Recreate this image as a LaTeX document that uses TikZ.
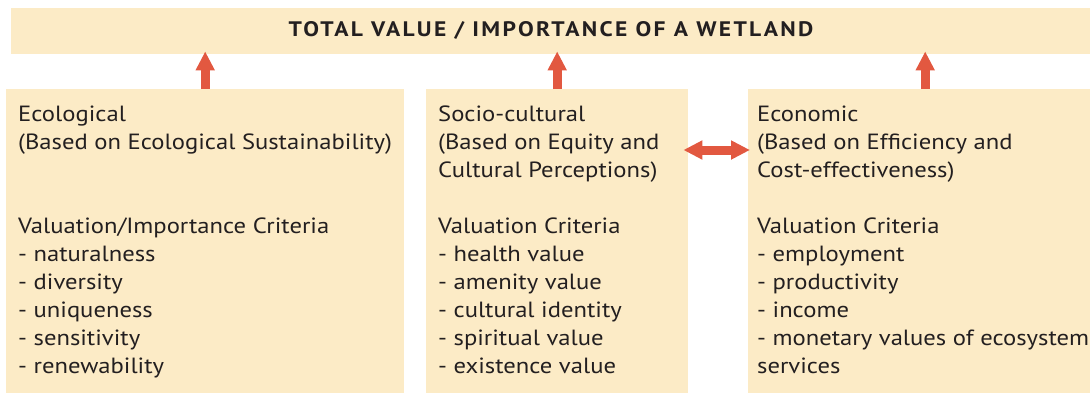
\documentclass[tikz,border=0pt]{standalone}
\usepackage{fontspec}
\setmainfont{PT Sans}[FakeStretch=1.12]
\newfontfamily\titlefont{PT Sans}[FakeStretch=1.12, LetterSpace=11]
\usetikzlibrary{arrows.meta}

\definecolor{wetbeige}{RGB}{252,235,198}
\definecolor{wetred}{RGB}{226,88,64}
\definecolor{wettext}{RGB}{35,31,32}

\tikzset{
  valuebox/.style={fill=wetbeige, draw=none, inner sep=0pt, anchor=north west},
  boxtext/.style={anchor=north west, inner sep=0pt, align=left, text=wettext,
    font=\fontsize{22}{28}\selectfont},
  uparrow/.style={draw=wetred, line width=9pt, -{Triangle[length=19pt,width=18pt]}},
  twoarrow/.style={draw=wetred, line width=9pt,
    {Triangle[length=19pt,width=18pt]}-{Triangle[length=19pt,width=18pt]}}
}

\begin{document}
\begin{tikzpicture}[x=1pt,y=-1pt]
			%%%%% START %%%%%
			
			\useasboundingbox (0,0) rectangle (1090,392);
			\clip (0,0) rectangle (1090,392);
			
			\node[valuebox, minimum width=1091pt, minimum height=46pt] (total) at (11,8) {};
			\node[anchor=base, inner sep=0pt, text=wettext, font=\titlefont\fontsize{21}{28}\selectfont\bfseries]
			  (title) at (551,36.7) {TOTAL VALUE / IMPORTANCE OF A WETLAND};
			
			\node[valuebox, minimum width=398pt, minimum height=320pt] (ecol) at (6,89) {};
			\node[valuebox, minimum width=262pt, minimum height=320pt] (socio) at (426,89) {};
			\node[valuebox, minimum width=354pt, minimum height=320pt] (econ) at (748,89) {};
			
			\node[boxtext] (ecoltext) at (18,101.5) {\rule{0pt}{20pt}Ecological\\
			  (Based on Ecological Sustainability)\\[56pt]
			  Valuation/Importance Criteria\\
			  - naturalness\\
			  - diversity\\
			  - uniqueness\\
			  - sensitivity\\
			  - renewability};
			
			\node[boxtext] (sociotext) at (438,101.5) {\rule{0pt}{20pt}Socio-cultural\\
			  (Based on Equity and\\
			  Cultural Perceptions)\\[28pt]
			  Valuation Criteria\\
			  - health value\\
			  - amenity value\\
			  - cultural identity\\
			  - spiritual value\\
			  - existence value};
			
			\node[boxtext] (econtext) at (757,101.5) {\rule{0pt}{20pt}Economic\\
			  (Based on Efficiency and\\
			  Cost-effectiveness)\\[28pt]
			  Valuation Criteria\\
			  - employment\\
			  - productivity\\
			  - income\\
			  - monetary values of ecosystem\\
			  services};
			
			% arrows up to the total value
			\draw[uparrow] (ecol.north) -- ([yshift=3pt]ecol.north |- total.south);
			\draw[uparrow] (socio.north) -- ([yshift=3pt]socio.north |- total.south);
			\draw[uparrow] (econ.north) -- ([yshift=3pt]econ.north |- total.south);
			
			% socio-cultural <-> economic
			\draw[twoarrow] ([xshift=-5pt,yshift=-61pt]socio.north east) -- ([xshift=2pt,yshift=-61pt]econ.north west);
			
			%%%%% END %%%%%
		\end{tikzpicture}
\end{document}
